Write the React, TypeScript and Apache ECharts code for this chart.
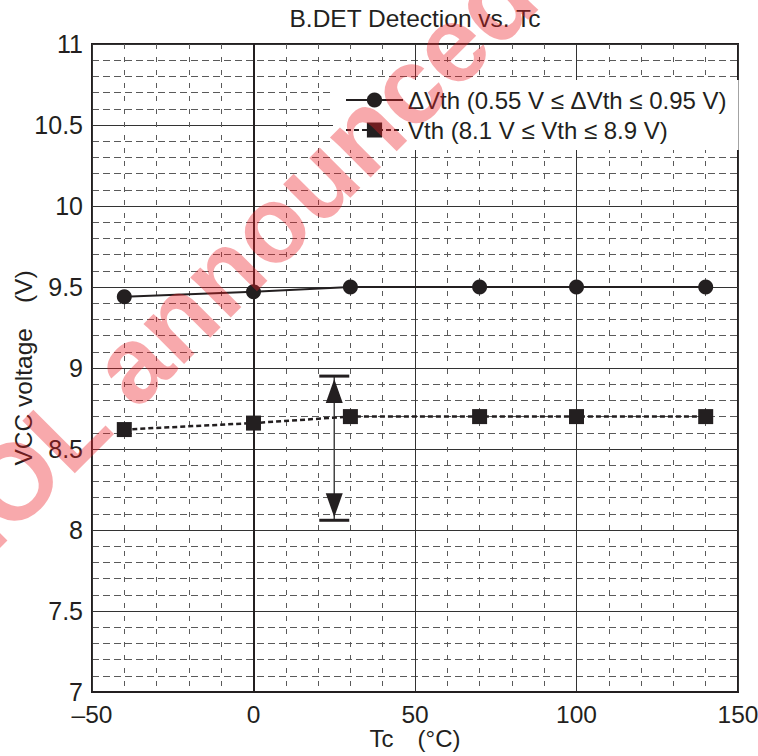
import React, { useEffect, useRef } from "react";
import * as echarts from "echarts";

const tempC = [-40, 0, 30, 70, 100, 140];
const deltaVth = [9.44, 9.47, 9.5, 9.5, 9.5, 9.5];
const vth = [8.62, 8.66, 8.7, 8.7, 8.7, 8.7];
const rangeArrow = [[25, 8.06, 8.95]];
const seriesNames = ["ΔVth (0.55 V ≤ ΔVth ≤ 0.95 V)", "Vth (8.1 V ≤ Vth ≤ 8.9 V)"];
const titleText = "B.DET Detection vs. Tc";
const xName = "Tc\u3000(°C)";
const yName = "VCC voltage\u3000(V)";
const watermark = "EOL announced";

const FONT = "'Liberation Sans', Arial, Helvetica, sans-serif";
const INK = "#231f20";

export default function App() {
  const ref = useRef<HTMLDivElement>(null);
  useEffect(() => {
    document.body.style.margin = "0";
    const chart = echarts.init(ref.current!, null, { renderer: "svg" });
    const option: any = {
      animation: false,
      backgroundColor: "#ffffff",
      textStyle: { fontFamily: FONT, color: INK },
      title: {
        text: titleText,
        left: 415,
        top: 6,
        textAlign: "center",
        padding: 0,
        textStyle: { fontFamily: FONT, fontSize: 24.5, fontWeight: "normal", color: INK },
      },
      grid: {
        left: 92,
        right: 20,
        top: 44,
        bottom: 64,
        containLabel: false,
        outerBoundsMode: "none",
        show: true,
        borderColor: INK,
        borderWidth: 2,
        backgroundColor: "transparent",
      },
      legend: {
        data: seriesNames,
        orient: "vertical",
        left: 333,
        top: 80,
        padding: [8, 12, 8, 12],
        backgroundColor: "#ffffff",
        itemWidth: 57,
        itemHeight: 19,
        itemGap: 6,
        align: "left",
        selectedMode: false,
        textStyle: { fontFamily: FONT, fontSize: 24, color: INK },
      },
      xAxis: {
        type: "value",
        min: -50,
        max: 150,
        interval: 50,
        name: xName,
        nameLocation: "middle",
        nameGap: 34,
        nameMoveOverlap: false,
        nameTextStyle: { fontFamily: FONT, fontSize: 24, color: INK, lineHeight: 24 },
        axisLine: { show: true, lineStyle: { color: INK, width: 2 } },
        axisTick: { show: false },
        axisLabel: {
          fontFamily: FONT,
          fontSize: 24.5,
          lineHeight: 24,
          color: INK,
          margin: 10,
          formatter: (v: number) => (v < 0 ? "\u2013" + Math.abs(v) : String(v)),
        },
        splitLine: { show: true, lineStyle: { color: "#333333", width: 1 } },
        minorTick: { show: false, splitNumber: 5 },
        minorSplitLine: { show: true, lineStyle: { color: "#5a5a5a", width: 1, type: [5, 8] } },
      },
      yAxis: {
        type: "value",
        min: 7,
        max: 11,
        interval: 0.5,
        name: yName,
        nameLocation: "middle",
        nameGap: 56,
        nameMoveOverlap: false,
        nameTextStyle: { fontFamily: FONT, fontSize: 24.5, color: INK },
        axisLine: { show: true, lineStyle: { color: INK, width: 2 } },
        axisTick: { show: false },
        axisLabel: { fontFamily: FONT, fontSize: 25, lineHeight: 20, color: INK, margin: 9 },
        splitLine: { show: true, lineStyle: { color: "#333333", width: 1 } },
        minorTick: { show: false, splitNumber: 5 },
        minorSplitLine: { show: true, lineStyle: { color: "#5a5a5a", width: 1, type: [7, 4] } },
      },
      graphic: [
        {
          type: "text",
          x: 225,
          y: 270,
          rotation: Math.PI / 4,
          z: 100,
          silent: true,
          style: {
            text: watermark,
            fontSize: 108,
            fontWeight: "bold",
            fontFamily: FONT,
            fill: "rgba(237,28,36,0.38)",
            align: "center",
            verticalAlign: "middle",
          },
        },
      ],
      series: [
        {
          name: seriesNames[0],
          type: "line",
          data: tempC.map((t, i) => [t, deltaVth[i]]),
          symbol: "circle",
          symbolSize: 15,
          lineStyle: { color: INK, width: 2, type: "solid" },
          itemStyle: { color: INK },
          z: 5,
        },
        {
          name: seriesNames[1],
          type: "line",
          data: tempC.map((t, i) => [t, vth[i]]),
          symbol: "rect",
          symbolSize: 15,
          lineStyle: { color: INK, width: 2.5, type: [5, 3] },
          itemStyle: { color: INK },
          z: 5,
        },
        {
          type: "custom",
          silent: true,
          data: rangeArrow,
          encode: { x: 0, y: [1, 2] },
          z: 4,
          renderItem: (params: any, api: any) => {
            const x = api.value(0);
            const lo = api.value(1);
            const hi = api.value(2);
            const pT = api.coord([x, hi]);
            const pB = api.coord([x, lo]);
            const capHalf = 15;
            const triH = 24;
            const triHalf = 8.5;
            const gap = 3;
            return {
              type: "group",
              children: [
                {
                  type: "line",
                  shape: { x1: pT[0], y1: pT[1], x2: pB[0], y2: pB[1] },
                  style: { stroke: "#444444", lineWidth: 1.5 },
                },
                {
                  type: "line",
                  shape: { x1: pT[0] - capHalf, y1: pT[1], x2: pT[0] + capHalf, y2: pT[1] },
                  style: { stroke: INK, lineWidth: 3 },
                },
                {
                  type: "line",
                  shape: { x1: pB[0] - capHalf, y1: pB[1], x2: pB[0] + capHalf, y2: pB[1] },
                  style: { stroke: INK, lineWidth: 3 },
                },
                {
                  type: "polygon",
                  shape: {
                    points: [
                      [pT[0], pT[1] + gap],
                      [pT[0] - triHalf, pT[1] + gap + triH],
                      [pT[0] + triHalf, pT[1] + gap + triH],
                    ],
                  },
                  style: { fill: INK },
                },
                {
                  type: "polygon",
                  shape: {
                    points: [
                      [pB[0], pB[1] - gap],
                      [pB[0] - triHalf, pB[1] - gap - triH],
                      [pB[0] + triHalf, pB[1] - gap - triH],
                    ],
                  },
                  style: { fill: INK },
                },
              ],
            };
          },
        },
      ],
    };
    chart.setOption(option);
    return () => chart.dispose();
  }, []);
  return <div ref={ref} style={{ width: 758, height: 756 }} />;
}
